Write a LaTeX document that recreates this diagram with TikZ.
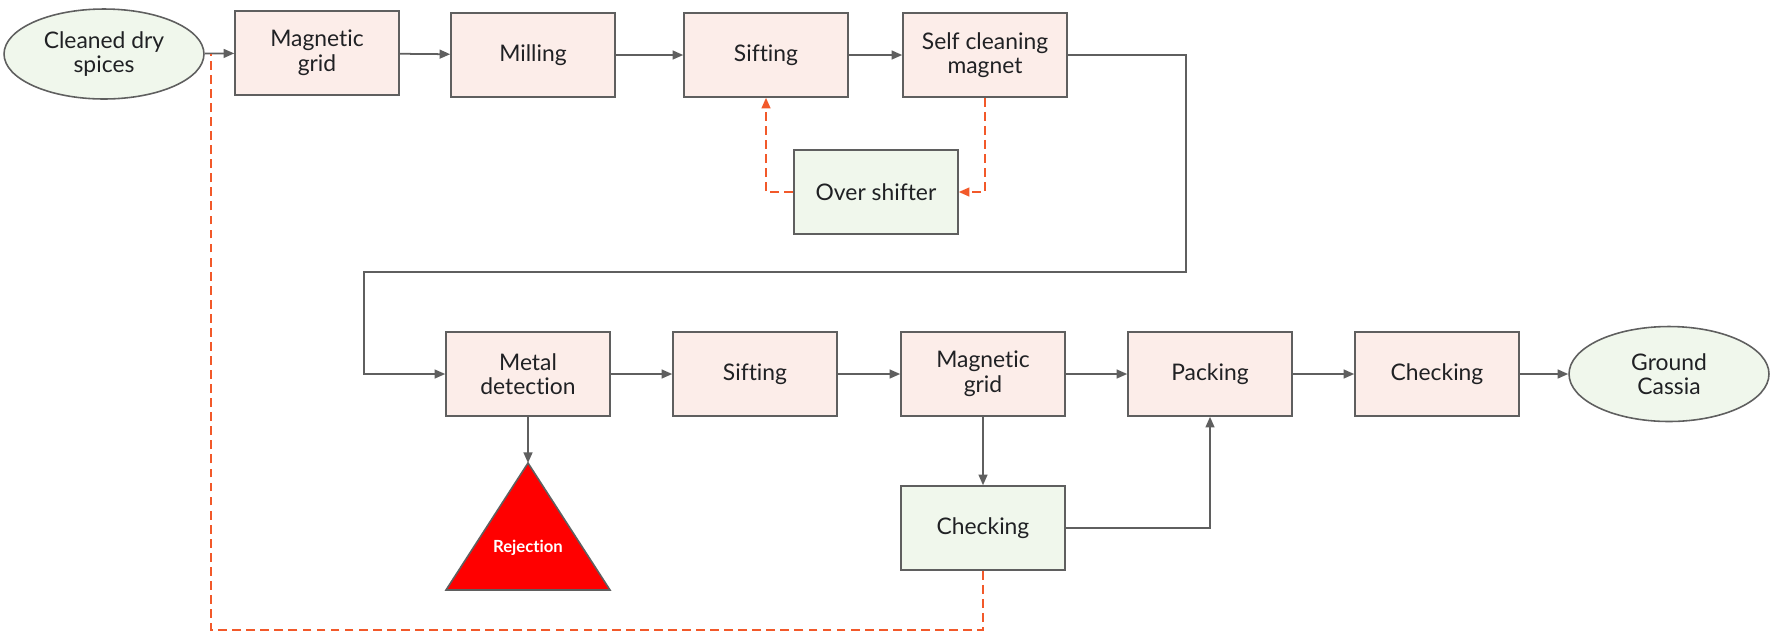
\documentclass[tikz,border=0pt]{standalone}
\usepackage{fontspec}
\setmainfont{Lato}[Ligatures=NoCommon]
\usetikzlibrary{positioning,shapes,arrows.meta}

\definecolor{boxred}{HTML}{FCEDE9}
\definecolor{boxgreen}{HTML}{F0F7EC}
\definecolor{linegray}{HTML}{5F5F5F}
\definecolor{dashorange}{HTML}{F2592A}
\definecolor{textblack}{HTML}{202124}

\tikzset{
  stepbox/.style={draw=linegray, line width=0.9pt, fill=boxred, minimum width=3.28cm, minimum height=1.68cm, align=center, inner sep=2pt},
  checkbox/.style={stepbox, fill=boxgreen},
  endpoint/.style={ellipse, draw=linegray, line width=0.9pt, fill=boxgreen, minimum width=4cm, minimum height=1.8cm, align=center, inner sep=0pt},
  flow/.style={draw=linegray, line width=1pt, -{Triangle[length=6pt,width=5pt]}},
  reflow/.style={draw=dashorange, line width=1pt, dash pattern=on 5pt off 3pt},
}

\begin{document}
\begin{tikzpicture}[x=0.02cm, y=-0.02cm, font=\fontsize{13}{14}\selectfont, text=textblack]
%      \draw[help lines] (0,0) grid[step=100] (1771,637);
      \useasboundingbox (0,0) rectangle (1771,637);

      % first line
      \node[endpoint] (spices)  at (104,54)  {Cleaned dry\\spices};
      \node[stepbox]  (grid1)   at (317,53)  {Magnetic\\grid};
      \node[stepbox]  (mill)    at (533,55)  {Milling};
      \node[stepbox]  (sift1)   at (766,55)  {Sifting};
      \node[stepbox]  (selfmag) at (985,55)  {Self cleaning\\magnet};
      \node[checkbox] (over)    at (876,192) {Over shifter};

      % second line
      \node[stepbox]  (metal)   at (528,374)  {Metal\\detection};
      \node[stepbox]  (sift2)   at (755,374)  {Sifting};
      \node[stepbox]  (grid2)   at (983,374)  {Magnetic\\grid};
      \node[stepbox]  (pack)    at (1210,374) {Packing};
      \node[stepbox]  (check1)  at (1437,374) {Checking};
      \node[endpoint, minimum height=1.9cm] (cassia) at (1669,374) {Ground\\Cassia};
      \node[checkbox] (check2)  at (983,528)  {Checking};

      \coordinate (rejtop) at (528,463);
      \filldraw[fill=red, draw=linegray, line width=0.9pt] (rejtop) -- (610,590) -- (446,590) -- cycle;
      \node[text=white, font=\bfseries\fontsize{9.5}{11}\selectfont] (rej) at (528,548) {Rejection};

      \draw[flow] (spices) -- (grid1);
      \draw[flow] (grid1)  -- (mill);
      \draw[flow] (mill)   -- (sift1);
      \draw[flow] (sift1)  -- (selfmag);
      \draw[flow] (selfmag.east) -| (1186,272) -| (364,374) -- (metal.west);

      \draw[reflow,-{Triangle[length=6pt,width=5pt]}] (selfmag.south) |- (over.east);
      \draw[reflow,-{Triangle[length=6pt,width=5pt]}] (over.west) -| (sift1.south);

      \draw[flow] (metal)  -- (sift2);
      \draw[flow] (sift2)  -- (grid2);
      \draw[flow] (grid2)  -- (pack);
      \draw[flow] (pack)   -- (check1);
      \draw[flow] (check1) -- (cassia);
      \draw[flow] (metal.south) -- (rejtop);
      \draw[flow] (grid2.south) -- (check2.north);
      \draw[flow] (check2.east) -| (pack.south);

      \draw[reflow] (check2.south) -- (983,630) -| (211,54);
    \end{tikzpicture}
\end{document}
